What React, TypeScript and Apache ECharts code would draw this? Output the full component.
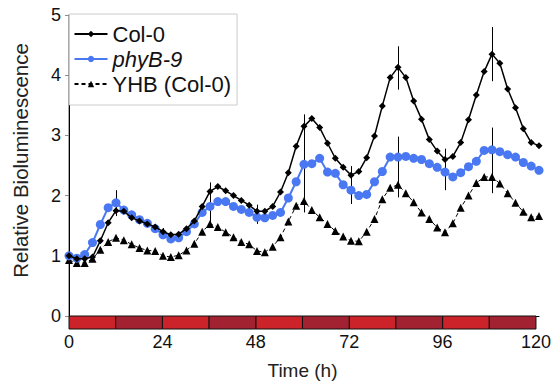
import React, { useEffect, useRef } from "react";
import * as echarts from "echarts";

const times: number[] = [];
for (let t = 0; t <= 120; t += 2) times.push(t);

const col0 = [1.00, 0.95, 0.95, 0.98, 1.25, 1.55, 1.75, 1.74, 1.63, 1.58, 1.53, 1.48, 1.40, 1.35, 1.36, 1.45, 1.58, 1.82, 2.07, 2.15, 2.08, 2.00, 1.92, 1.84, 1.74, 1.74, 1.82, 2.06, 2.38, 2.82, 3.15, 3.28, 3.13, 2.87, 2.62, 2.47, 2.34, 2.40, 2.63, 2.99, 3.49, 3.96, 4.13, 3.96, 3.57, 3.27, 2.93, 2.74, 2.60, 2.65, 2.88, 3.26, 3.67, 4.06, 4.35, 4.20, 3.77, 3.46, 3.11, 2.88, 2.83];
const phyB9 = [1.00, 0.96, 1.02, 1.22, 1.52, 1.80, 1.88, 1.76, 1.68, 1.60, 1.54, 1.45, 1.35, 1.28, 1.30, 1.40, 1.53, 1.72, 1.82, 1.90, 1.90, 1.82, 1.77, 1.72, 1.64, 1.63, 1.67, 1.72, 1.96, 2.23, 2.52, 2.53, 2.62, 2.39, 2.37, 2.18, 2.09, 2.00, 2.02, 2.23, 2.40, 2.64, 2.64, 2.65, 2.62, 2.60, 2.53, 2.47, 2.39, 2.31, 2.38, 2.48, 2.57, 2.75, 2.76, 2.73, 2.68, 2.64, 2.55, 2.49, 2.42];
const yhb = [0.93, 0.88, 0.88, 0.95, 1.10, 1.23, 1.30, 1.26, 1.19, 1.13, 1.09, 1.08, 1.00, 0.98, 1.01, 1.09, 1.20, 1.40, 1.53, 1.48, 1.39, 1.31, 1.23, 1.19, 1.08, 1.06, 1.15, 1.31, 1.57, 1.83, 1.91, 1.76, 1.64, 1.53, 1.41, 1.32, 1.25, 1.24, 1.40, 1.61, 1.94, 2.13, 2.18, 2.04, 1.89, 1.72, 1.61, 1.47, 1.39, 1.54, 1.80, 2.00, 2.21, 2.31, 2.31, 2.20, 2.04, 1.88, 1.73, 1.64, 1.66];

// error bars: [time, low, high]
const errorBars = [
  [12, 1.66, 2.09], [24, 1.30, 1.46], [36, 1.47, 2.22], [48, 1.53, 1.85],
  [60, 1.72, 3.35], [72, 1.86, 2.49], [84, 3.76, 4.48], [84, 1.97, 2.98],
  [96, 2.09, 2.78], [108, 3.90, 4.80], [108, 2.04, 3.13],
];

// light/dark strip starts (12 h each)
const lightStarts = [0, 24, 48, 72, 96];
const darkStarts = [12, 36, 60, 84, 108];

const LIGHT = "#cc2229";
const DARK = "#a32232";
const BLUE = "#4a78f2";
const FONT = "Liberation Sans, Arial, sans-serif";

export default function App() {
  const ref = useRef<HTMLDivElement>(null);
  useEffect(() => {
    document.body.style.margin = "0";
    if (!ref.current) return;
    const chart = echarts.init(ref.current, null, { renderer: "svg" });
    const strip = [
      ...lightStarts.map((s) => [s, s + 12, 0]),
      ...darkStarts.map((s) => [s, s + 12, 1]),
    ];
    const pair = (arr: number[]) => times.map((t, i) => [t, arr[i]]);
    chart.setOption({
      animation: false,
      textStyle: { fontFamily: FONT },
      legend: {
        orient: "vertical",
        left: 69.5,
        top: 14,
        padding: [9, 6, 10, 4],
        itemGap: 3,
        itemWidth: 33,
        itemHeight: 8,
        backgroundColor: "#fff",
        borderColor: "#cccccc",
        borderWidth: 1,
        textStyle: { fontSize: 22, color: "#111", fontFamily: FONT, rich: { i: { fontStyle: "italic", fontSize: 22, fontFamily: FONT, color: "#111" } } },
        formatter: (n: string) => (n === "phyB-9" ? `{i|${n}}` : n),
        data: ["Col-0", "phyB-9", "YHB (Col-0)"],
        z: 10,
      },
      grid: [
        { left: 69, right: 15, top: 15, bottom: 65 },
        { left: 69, right: 15, top: 316, height: 17 },
      ],
      xAxis: [
        {
          gridIndex: 0, type: "value", min: 0, max: 120, interval: 24,
          axisLine: { show: false }, axisTick: { show: false }, axisLabel: { show: false }, splitLine: { show: false },
        },
        {
          gridIndex: 0, type: "value", min: 0, max: 120, position: "top",
          axisLine: { show: true, lineStyle: { color: "#000", width: 1 } }, axisTick: { show: false }, axisLabel: { show: false }, splitLine: { show: false },
        },
        {
          gridIndex: 1, type: "value", min: 0, max: 120, interval: 24,
          axisLine: { show: false }, axisTick: { show: false }, splitLine: { show: false },
          axisLabel: { show: true, fontSize: 18, color: "#111", margin: 4, fontFamily: FONT },
          name: "Time (h)", nameLocation: "middle", nameGap: 32,
          nameTextStyle: { fontSize: 19, color: "#222", fontFamily: FONT },
        },
      ],
      yAxis: [
        {
          gridIndex: 0, type: "value", min: 0, max: 5, interval: 1,
          axisLine: { show: true, lineStyle: { color: "#8c8c8c", width: 1.5 } },
          axisTick: { show: true, inside: false, length: 4, lineStyle: { color: "#8c8c8c" } },
          axisLabel: { fontSize: 18, color: "#111", margin: 8, fontFamily: FONT },
          splitLine: { show: false },
          name: "Relative Bioluminescence", nameLocation: "middle", nameGap: 38,
          nameTextStyle: { fontSize: 20.5, color: "#222", fontFamily: FONT, padding: [0, 0, 0, 10] },
        },
        {
          gridIndex: 0, type: "value", min: 0, max: 5, position: "right",
          axisLine: { show: true, lineStyle: { color: "#000", width: 1 } }, axisTick: { show: false }, axisLabel: { show: false }, splitLine: { show: false },
        },
        {
          gridIndex: 1, type: "value", min: 0, max: 1, show: false,
        },
      ],
      series: [
        {
          type: "custom", xAxisIndex: 2, yAxisIndex: 2, data: strip, silent: true,
          renderItem: (params: any, api: any) => {
            const p0 = api.coord([api.value(0), 1]);
            const p1 = api.coord([api.value(1), 0]);
            return {
              type: "rect",
              shape: { x: p0[0], y: p0[1], width: p1[0] - p0[0], height: p1[1] - p0[1] },
              style: { fill: api.value(2) === 0 ? LIGHT : DARK, stroke: "#111", lineWidth: 1 },
            };
          },
        },
        {
          type: "custom", xAxisIndex: 0, yAxisIndex: 0, data: errorBars, silent: true, z: 1,
          renderItem: (params: any, api: any) => {
            const a = api.coord([api.value(0), api.value(1)]);
            const b = api.coord([api.value(0), api.value(2)]);
            const x = Math.round(a[0]) + 0.5;
            return {
              type: "line",
              shape: { x1: x, y1: a[1], x2: x, y2: b[1] },
              style: { stroke: "#000", lineWidth: 1 },
            };
          },
        },
        {
          name: "YHB (Col-0)", type: "line", xAxisIndex: 0, yAxisIndex: 0, data: pair(yhb),
          symbol: "triangle", symbolSize: 8, showAllSymbol: true,
          itemStyle: { color: "#000" },
          lineStyle: { color: "#000", width: 1, type: [4, 3] }, z: 2,
        },
        {
          name: "phyB-9", type: "line", xAxisIndex: 0, yAxisIndex: 0, data: pair(phyB9),
          symbol: "circle", symbolSize: 9, showAllSymbol: true,
          itemStyle: { color: BLUE },
          lineStyle: { color: BLUE, width: 2 }, z: 3,
        },
        {
          name: "Col-0", type: "line", xAxisIndex: 0, yAxisIndex: 0, data: pair(col0),
          symbol: "diamond", symbolSize: 7, showAllSymbol: true,
          itemStyle: { color: "#000" },
          lineStyle: { color: "#000", width: 1.5 }, z: 4,
        },
      ],
    });
    return () => chart.dispose();
  }, []);
  return <div ref={ref} style={{ width: 554, height: 381 }} />;
}
